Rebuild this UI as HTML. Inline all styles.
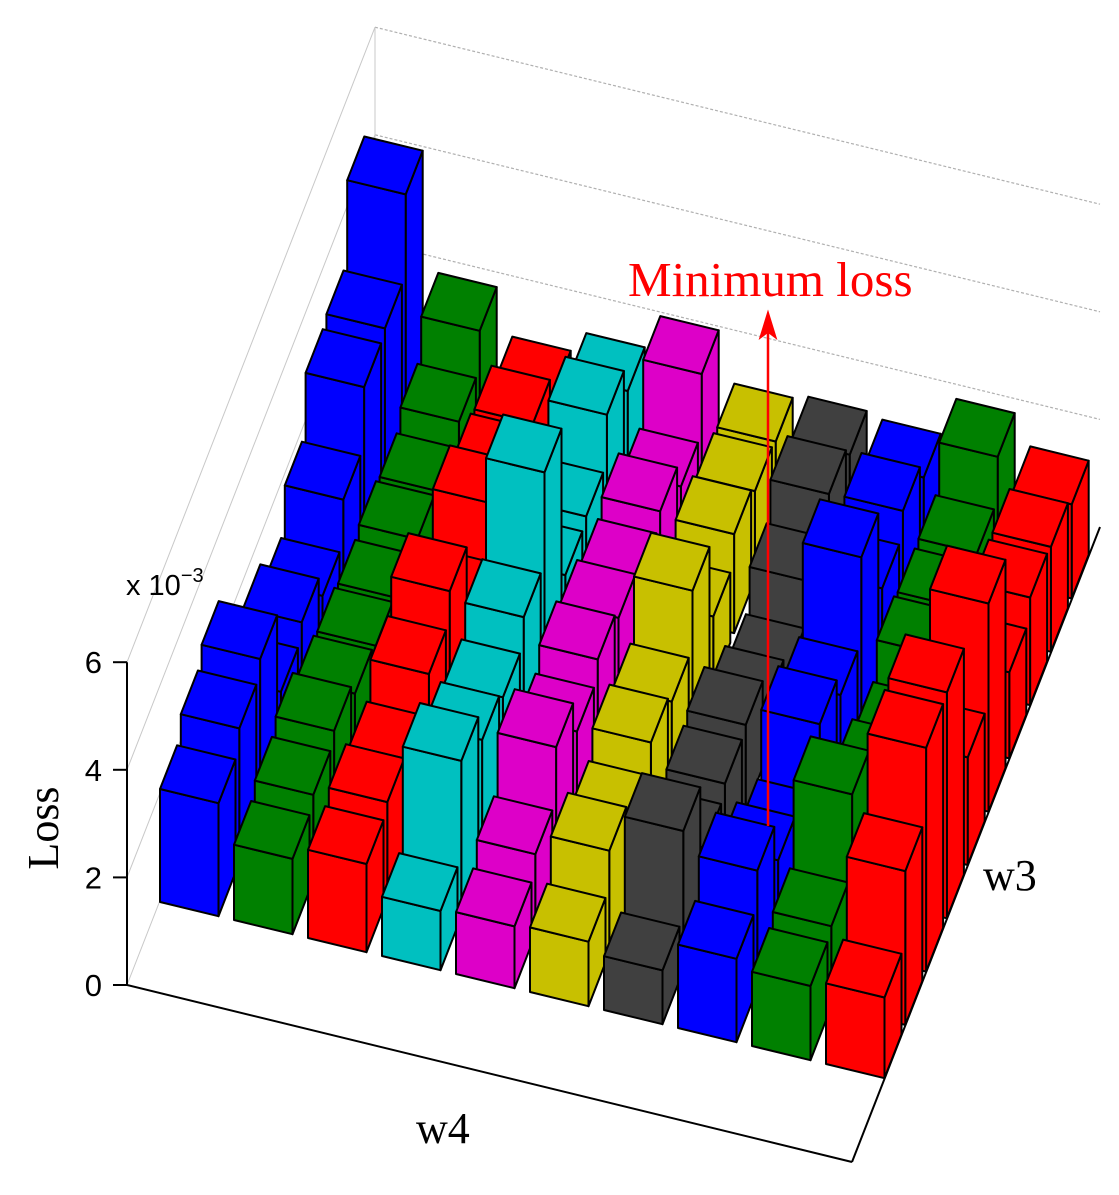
<!DOCTYPE html>
<html><head><meta charset="utf-8"><style>
html,body{margin:0;padding:0;background:#fff;}
svg{display:block;}
</style></head><body>
<svg id="chart" width="1119" height="1195" viewBox="0 0 1119 1195" xmlns="http://www.w3.org/2000/svg">
<g id="walls"></g>
<g id="bars"></g>
<g id="axes"></g>
<g>
<text x="126" y="595" font-family="Liberation Sans, sans-serif" font-size="29" fill="#000">x 10<tspan dy="-13" font-size="20">−3</tspan></text>
<text x="0" y="0" transform="translate(58,828) rotate(-90)" text-anchor="middle" font-family="Liberation Serif, serif" font-size="44" fill="#000">Loss</text>
<text x="416" y="1143" font-family="Liberation Serif, serif" font-size="44" fill="#000">w4</text>
<text x="983" y="890" font-family="Liberation Serif, serif" font-size="44" fill="#000">w3</text>
<text x="628" y="296" font-family="Liberation Serif, serif" font-size="49" fill="#ff0000">Minimum loss</text>
<line x1="768" y1="826" x2="768" y2="330" stroke="#ff0000" stroke-width="2.5"/>
<polygon points="768,312 760,338 768,332 776,338" fill="#ff0000" stroke="#ff0000" stroke-width="1.5"/>
</g>
</svg>
<script>
// Data: loss (x10^-3) per w4 column, rows front (w3 index 0) to back
const w4Cols = ['c1','c2','c3','c4','c5','c6','c7','c8','c9','c10'];
const colColors = ['#0000ff','#008000','#ff0000','#00c0c0','#dd00c8','#c8c000','#404040','#0000ff','#008000','#ff0000'];
const col0 = [2.1, 2.5, 2.8, 1.2, 1.5, 1.0, 1.8, 2.9, 3.0, 4.5];
const col1 = [1.4, 1.6, 1.8, 1.5, 1.4, 1.3, 1.4, 1.3, 1.6, 2.3];
const col2 = [1.64, 1.8, 1.6, 2.2, 2.75, 1.5, 2.4, 2.0, 1.9, 1.45];
const col3 = [1.1, 2.9, 2.3, 2.1, 2.6, 4.3, 1.4, 1.5, 2.4, 1.85];
const col4 = [1.15, 1.5, 2.5, 1.8, 2.15, 1.93, 1.7, 1.93, 1.4, 2.5];
const col5 = [1.2, 1.9, 1.5, 1.93, 1.7, 2.77, 1.3, 1.84, 1.65, 1.58];
const col6 = [1.0, 2.6, 1.3, 1.5, 1.6, 1.0, 0.6, 1.3, 1.93, 1.67];
const col7 = [1.55, 2.2, 1.4, 0.84, 1.95, 1.5, 3.07, 1.5, 1.95, 1.58];
const col8 = [1.38, 1.5, 2.96, 1.2, 1.3, 1.0, 1.6, 1.5, 1.5, 2.3];
const col9 = [1.5, 2.86, 4.16, 4.2, 2.0, 3.87, 1.6, 2.0, 1.95, 1.75];
const zTicks = [0, 2, 4, 6];
const zTickLabels = ['0', '2', '4', '6'];

const columns = [col0,col1,col2,col3,col4,col5,col6,col7,col8,col9];
const NS = 'http://www.w3.org/2000/svg';
const ZS = 53.8;
function zToPx(z){ return z * ZS; }
function proj(i, j, z){
  return [160 + 74*i + 20.8*j, 902 + 18*i - 53.3*j - zToPx(z)];
}
function mk(tag, attrs, parent){
  const e = document.createElementNS(NS, tag);
  for (const k in attrs) e.setAttribute(k, attrs[k]);
  parent.appendChild(e);
  return e;
}
function pts(a){ return a.map(p => p[0].toFixed(1)+','+p[1].toFixed(1)).join(' '); }

const walls = document.getElementById('walls');
zTicks.forEach(z => {
  const l = mk('line', {x1:127, y1:985-zToPx(z), x2:375, y2:350-zToPx(z), stroke:'#c8c8c8', 'stroke-width':1}, walls);
  
  
  if (z > 0) {
    const b = mk('line', {x1:375, y1:350-zToPx(z), x2:1100, y2:527-zToPx(z), stroke:'#b0b0b0', 'stroke-width':1.2, 'stroke-dasharray':'3,2'}, walls);
    
    
  }
});
const bv = mk('line', {x1:375, y1:350, x2:375, y2:350-zToPx(6), stroke:'#c8c8c8', 'stroke-width':1}, walls);



const barsG = document.getElementById('bars');
const BW = 0.79, BD = 0.82;
for (let r = 9; r >= 0; r--) {
  for (let c = 0; c < columns.length; c++) {
    const h = columns[c][r];
    const col = colColors[c];
    const g = mk('g', {}, barsG);
    
    
    const a = proj(c, r, 0), b = proj(c+BW, r, 0), bd = proj(c+BW, r+BD, 0);
    const at = proj(c, r, h), bt = proj(c+BW, r, h), bdt = proj(c+BW, r+BD, h), adt = proj(c, r+BD, h);
    const st = {fill: col, stroke:'#000', 'stroke-width':2, 'stroke-linejoin':'round'};
    mk('polygon', Object.assign({points: pts([b, bd, bdt, bt])}, st), g);
    mk('polygon', Object.assign({points: pts([a, b, bt, at])}, st), g);
    mk('polygon', Object.assign({points: pts([at, bt, bdt, adt])}, st), g);
  }
}

const ax = document.getElementById('axes');
const zl = mk('line', {x1:127, y1:985, x2:127, y2:985-zToPx(6), stroke:'#000', 'stroke-width':2}, ax);


zTicks.forEach((z, k) => {
  const y = 985 - zToPx(z);
  const t = mk('line', {x1:113, y1:y, x2:127, y2:y, stroke:'#000', 'stroke-width':2}, ax);
  
  
  const tx = mk('text', {x:102, y:y+11, 'text-anchor':'end', 'font-family':'Liberation Sans, sans-serif', 'font-size':31, fill:'#000'}, ax);
  tx.textContent = zTickLabels[k];
  
  
});
const fx = mk('line', {x1:127, y1:985, x2:852, y2:1162, stroke:'#000', 'stroke-width':2}, ax);


const fy = mk('line', {x1:852, y1:1162, x2:1100, y2:527, stroke:'#000', 'stroke-width':2}, ax);


</script>
</body></html>
